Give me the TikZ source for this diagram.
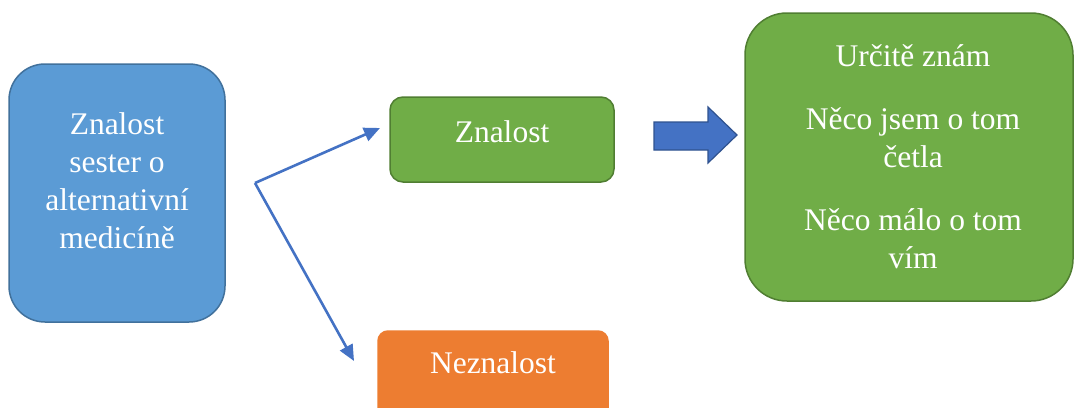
\documentclass[tikz,border=0pt]{standalone}
\usepackage{fontspec}
\setmainfont{Liberation Serif}
\newfontfamily\timesx{Liberation Serif}
\usetikzlibrary{arrows.meta}
\definecolor{bluebox}{HTML}{5B9BD5}
\definecolor{blueedge}{HTML}{41719C}
\definecolor{greenbox}{HTML}{70AD47}
\definecolor{greenedge}{HTML}{507E32}
\definecolor{orangebox}{HTML}{ED7D31}
\definecolor{arrowblue}{HTML}{4472C4}
\definecolor{arrowedge}{HTML}{2F528F}
\tikzset{
  boxbase/.style={rectangle, line width=1.5pt, inner sep=0pt},
  bluestyle/.style={boxbase, fill=bluebox, draw=blueedge, rounded corners=36pt},
  greenstyle/.style={boxbase, fill=greenbox, draw=greenedge},
  orangestyle/.style={boxbase, fill=orangebox, draw=orangebox, rounded corners=10pt},
  labeltext/.style={text=white, font=\timesx\fontsize{31.5}{38}\selectfont, align=center, inner sep=0pt},
  thinarrow/.style={draw=arrowblue, line width=2.6pt, -{Triangle[length=16pt,width=14pt]}},
  bigarrow/.style={fill=arrowblue, draw=arrowedge, line width=1.2pt, line join=miter}
}
\begin{document}
\begin{tikzpicture}[x=1pt,y=-1pt]
\useasboundingbox (0,0) rectangle (1075,407);
\fill[white] (0,0) rectangle (1075,407);
% left box
\node[bluestyle, minimum width=216pt, minimum height=258pt] (src) at (117,193) {};
\node[labeltext] (srctext) at (117,181) {Znalost\\sester o\\alternativní\\medicíně};
% green small box
\node[greenstyle, rounded corners=13pt, minimum width=224pt, minimum height=85pt] (zn) at (502,139.5) {};
\node[labeltext] (zntext) at (502,132) {Znalost};
% orange box
\node[orangestyle, minimum width=230pt, minimum height=100pt] (nez) at (493,381) {};
\node[labeltext] (neztext) at (493,363) {Neznalost};
% big arrow
\draw[bigarrow] (654,122) -- (708,122) -- (708,107) -- (737,135) -- (708,163) -- (708,150) -- (654,150) -- cycle;
% right box
\node[greenstyle, rounded corners=42pt, minimum width=328pt, minimum height=288pt] (res) at (909,157) {};
\node[labeltext] (restext) at (913,157) {Určitě znám\\[25pt]Něco jsem o tom\\četla\\[25pt]Něco málo o tom\\vím};
% thin arrows
\coordinate (fork) at (255,183);
\coordinate (uptip) at (380,128);
\coordinate (downtip) at (354,361);
\draw[thinarrow] (fork) -- (uptip);
\draw[thinarrow] (fork) -- (downtip);
\end{tikzpicture}
\end{document}
